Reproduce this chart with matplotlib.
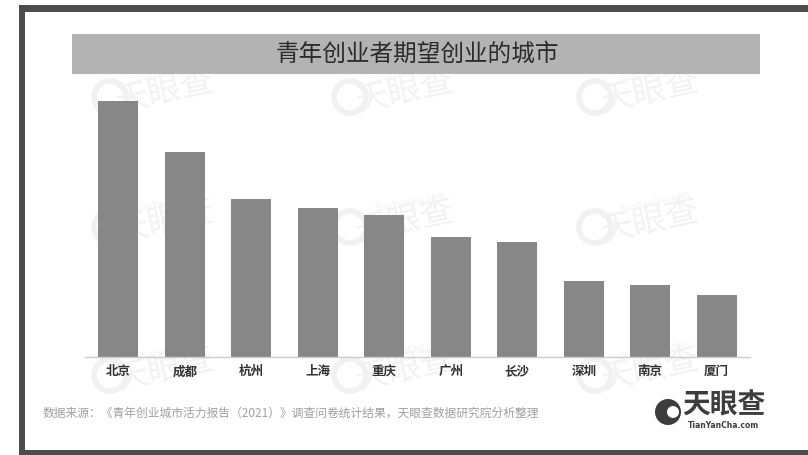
import matplotlib
matplotlib.use('Agg')
import matplotlib.pyplot as plt
from matplotlib.patches import Rectangle, Ellipse

plt.rcParams['font.family'] = ['Noto Sans CJK SC', 'DejaVu Sans']

cities = ['北京', '成都', '杭州', '上海', '重庆', '广州', '长沙', '深圳', '南京', '厦门']
values = [25.6, 20.5, 15.8, 14.9, 14.2, 12.0, 11.5, 7.6, 7.2, 6.2]
title = '青年创业者期望创业的城市'
source = '数据来源：《青年创业城市活力报告（2021）》调查问卷统计结果，天眼查数据研究院分析整理'

W, H = 808, 455
fig = plt.figure(figsize=(W / 100, H / 100), dpi=100)
fig.patch.set_facecolor('white')

def fx(px):
    return px / W

def fy(py):
    return 1 - py / H

# frame
frame = '#4d4d4d'
fig.patches.append(Rectangle((fx(19), fy(12)), fx(808 - 19), 7 / H, transform=fig.transFigure,
                             facecolor=frame, edgecolor='none', zorder=-5))
fig.patches.append(Rectangle((fx(19), fy(455)), 6 / W, (455 - 5) / H, transform=fig.transFigure,
                             facecolor=frame, edgecolor='none', zorder=-5))
fig.patches.append(Rectangle((fx(19), fy(455)), fx(808 - 19), 5 / H, transform=fig.transFigure,
                             facecolor=frame, edgecolor='none', zorder=-5))

# watermarks
for wy in [92, 222, 370]:
    for wx in [165, 405, 650]:
        fig.patches.append(Ellipse((fx(wx - 55), fy(wy + 5)), 32 / W, 32 / H, transform=fig.transFigure,
                                   facecolor='none', edgecolor='#f1f1f1', linewidth=4, zorder=-4))
        fig.text(fx(wx), fy(wy), '天眼查', fontsize=24, color='#f2f2f2', rotation=12,
                 ha='center', va='center', zorder=-4)
        fig.text(fx(wx + 5), fy(wy - 20), 'TianYanCha.com', fontsize=6.5, color='#f2f2f2',
                 rotation=12, ha='center', va='center', zorder=-4)

# title banner
fig.patches.append(Rectangle((fx(72), fy(74)), fx(760 - 72), 40 / H, transform=fig.transFigure,
                             facecolor='#b3b3b3', edgecolor='none', zorder=-3))
fig.text(fx(417), fy(54), title, fontsize=17, color='#2b2b2b', ha='center', va='center')

ax = fig.add_axes([fx(85), fy(357), fx(750 - 85), 256 / H])
ax.set_zorder(1)
ax.patch.set_alpha(0)
x = range(len(cities))
ax.bar(x, values, width=0.6, color='#878787', zorder=2)
ax.set_xlim(-0.5, len(cities) - 0.5)
ax.set_ylim(0, max(values))
ax.set_xticks(list(x))
ax.set_xticklabels(cities, fontsize=9, fontweight='bold', color='#333333')
ax.tick_params(axis='x', length=0, pad=6)
ax.set_yticks([])
for s in ['top', 'right', 'left']:
    ax.spines[s].set_visible(False)
ax.spines['bottom'].set_color('#cccccc')
ax.spines['bottom'].set_linewidth(1)

# source
fig.text(fx(43), fy(413), source, fontsize=8.5, color='#a0a0a0', ha='left', va='center')

# logo
cx, cy, r = 668, 412, 13
fig.patches.append(Ellipse((fx(cx), fy(cy)), 2 * r / W, 2 * r / H, transform=fig.transFigure,
                           facecolor='#3d3d3d', edgecolor='none', zorder=3))
fig.patches.append(Ellipse((fx(cx + 5), fy(cy)), 12 / W, 12 / H, transform=fig.transFigure,
                           facecolor='white', edgecolor='none', zorder=4))
fig.text(fx(724), fy(405), '天眼查', fontsize=20, fontweight='bold', color='#3d3d3d',
         ha='center', va='center')
fig.text(fx(724), fy(425), 'TianYanCha.com', fontsize=5.5, fontweight='bold', color='#3d3d3d',
         ha='center', va='center', family='DejaVu Sans')

fig.savefig('out.png', dpi=100, facecolor='white')
